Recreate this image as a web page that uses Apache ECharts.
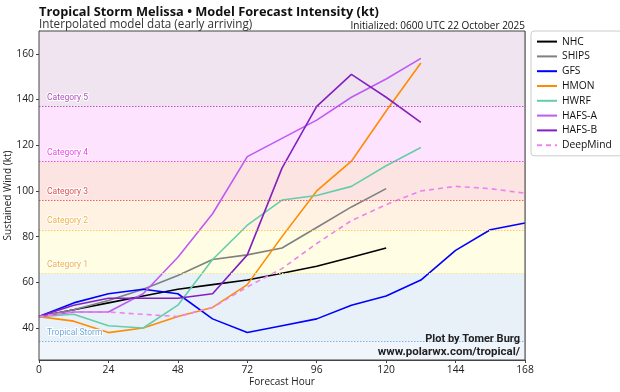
<!DOCTYPE html>
<html>
<head>
<meta charset="utf-8">
<script src="https://cdn.jsdelivr.net/npm/echarts@6/dist/echarts.min.js"></script>
<style>html,body{margin:0;padding:0;background:#fff;}#c{width:620px;height:392px;}</style>
</head>
<body>
<div id="c"></div>
<script>
const hours = [0,12,24,36,48,60,72,84,96,108,120,132,144,156,168];
const xTicks = [0,24,48,72,96,120,144,168];
const NHC = [45,48,51,54,57,59,61,64,67,71,75];
const SHIPS = [45,48,52,57,63,70,72,75,84,93,101];
const GFS = [45,51,55,57,55,44,38,41,44,50,54,61,74,83,86];
const HMON = [45,43,38,40,45,49,59,80,100,113,135,156];
const HWRF = [45,46,41,40,50,70,85,96,98,102,111,119];
const HAFSA = [45,47,47,55,71,90,115,123,131,141,149,158];
const HAFSB = [45,50,53,53,53,55,72,110,137,151,141,130];
const DeepMind = [45,47,47,46,45,49,58,66,77,87,94,100,102,101,99];
const catNames = ['Tropical Storm','Category 1','Category 2','Category 3','Category 4','Category 5'];
const catThresholds = [34,64,83,96,113,137];
const yMin = 26, yMax = 170;

const FONT = '"Open Sans"';
const FONT2 = 'Roboto';
const models = [
  {name:'NHC', data:NHC, color:'#000000', dash:'solid'},
  {name:'SHIPS', data:SHIPS, color:'#808080', dash:'solid'},
  {name:'GFS', data:GFS, color:'#0000ff', dash:'solid'},
  {name:'HMON', data:HMON, color:'#ff8c00', dash:'solid'},
  {name:'HWRF', data:HWRF, color:'#66cdaa', dash:'solid'},
  {name:'HAFS-A', data:HAFSA, color:'#bf5af5', dash:'solid'},
  {name:'HAFS-B', data:HAFSB, color:'#8420c0', dash:'solid'},
  {name:'DeepMind', data:DeepMind, color:'#ee82ee', dash:[5,4]}
];
const bandColors = ['#f0f5fb','#e8f0f8','#fffde3','#fff2e3','#fbe4e1','#fee3fe','#f0e4f0'];
const lineColors = ['#7fb2e5','#f2e88a','#ffc65a','#f06060','#e050e0','#c050c0'];
const labelColors = ['#6fa8dc','#f5b041','#f5b041','#e05050','#ee44ee','#b050c0'];

const bounds = [yMin].concat(catThresholds).concat([yMax]);
const areas = [];
for (let i = 0; i < bounds.length - 1; i++) {
  areas.push([{yAxis: bounds[i], itemStyle:{color: bandColors[i]}}, {yAxis: bounds[i+1]}]);
}
const mlines = catThresholds.map((t,i)=>({
  yAxis: t,
  lineStyle:{color: lineColors[i], type:[1.5,1.5], width:1},
  label:{show:true, formatter: catNames[i], position:'insideStartTop', color: labelColors[i],
    fontSize:8.5, fontFamily:FONT2, textBorderColor:'#fff', textBorderWidth:2, distance:[8,4]}
}));

const series = [{
  name:'bands', type:'line', data:[], silent:true,
  markArea:{silent:true, data: areas},
  markLine:{silent:true, symbol:'none', animation:false, data: mlines}
}].concat(models.map(m=>({
  name:m.name, type:'line', symbol:'none', animation:false,
  data: m.data.map((v,i)=>[hours[i], v]),
  lineStyle:{color:m.color, width:1.6, type:m.dash},
  itemStyle:{color:m.color}
})));

const chart = echarts.init(document.getElementById('c'), null, {renderer:'canvas'});
chart.setOption({
  backgroundColor:'#fff',
  animation:false,
  textStyle:{fontFamily:FONT},
  grid:{left:39, top:31, width:486, height:329, outerBoundsMode:'none', containLabel:false,
    show:true, borderColor:'#444', borderWidth:1, backgroundColor:'transparent', z:10},
  title:[
    {text:'Tropical Storm Melissa • Model Forecast Intensity (kt)', left:34, top:1,
     textStyle:{fontSize:12.8, fontWeight:'bold', color:'#111', fontFamily:FONT}},
    {text:'Interpolated model data (early arriving)', left:34, top:14,
     textStyle:{fontSize:11.7, fontWeight:'normal', color:'#333', fontFamily:FONT}},
    {text:'Initialized: 0600 UTC 22 October 2025', right:90, top:16,
     textStyle:{fontSize:10, fontWeight:'normal', color:'#111', fontFamily:FONT}}
  ],
  legend:{
    data: models.map(m=>m.name), orient:'vertical', left:531, top:31,
    itemWidth:20, itemHeight:14, itemGap:3.6, padding:[5,10,5,5],
    itemStyle:{opacity:0},
    borderColor:'#ccc', borderWidth:1, borderRadius:3, backgroundColor:'#fff',
    textStyle:{fontSize:10.3, color:'#111', fontFamily:FONT}
  },
  xAxis:{
    type:'value', min:0, max:168, interval:24,
    name:'Forecast Hour', nameLocation:'middle', nameGap:17, nameMoveOverlap:false,
    nameTextStyle:{fontSize:10, color:'#222', fontFamily:FONT},
    axisLine:{show:true, lineStyle:{color:'#444'}},
    axisTick:{show:true, length:3, lineStyle:{color:'#444'}},
    axisLabel:{fontSize:10.3, color:'#222', margin:5, formatter:v=>xTicks.includes(v)?String(v):''},
    splitLine:{show:true, lineStyle:{color:'#c8c8c8', width:1}}
  },
  yAxis:{
    type:'value', min:yMin, max:yMax, minInterval:20, maxInterval:20, splitNumber:7,
    name:'Sustained Wind (kt)', nameLocation:'middle', nameGap:26, nameMoveOverlap:false,
    nameTextStyle:{fontSize:10, color:'#222', fontFamily:FONT},
    axisLine:{show:true, lineStyle:{color:'#444'}},
    axisTick:{show:true, length:3, lineStyle:{color:'#444'}},
    axisLabel:{fontSize:10.3, color:'#222', margin:5, showMinLabel:false, showMaxLabel:false},
    splitLine:{show:true, lineStyle:{color:'#c8c8c8', width:1}}
  },
  graphic:[
    {type:'text', right:100, top:334, style:{text:'Plot by Tomer Burg', font:'bold 11px '+FONT2, fill:'#222'}, z:100},
    {type:'text', right:100, top:346, style:{text:'www.polarwx.com/tropical/', font:'bold 11.5px '+FONT2, fill:'#222'}, z:100}
  ],
  series: series
});
</script>
</body>
</html>
